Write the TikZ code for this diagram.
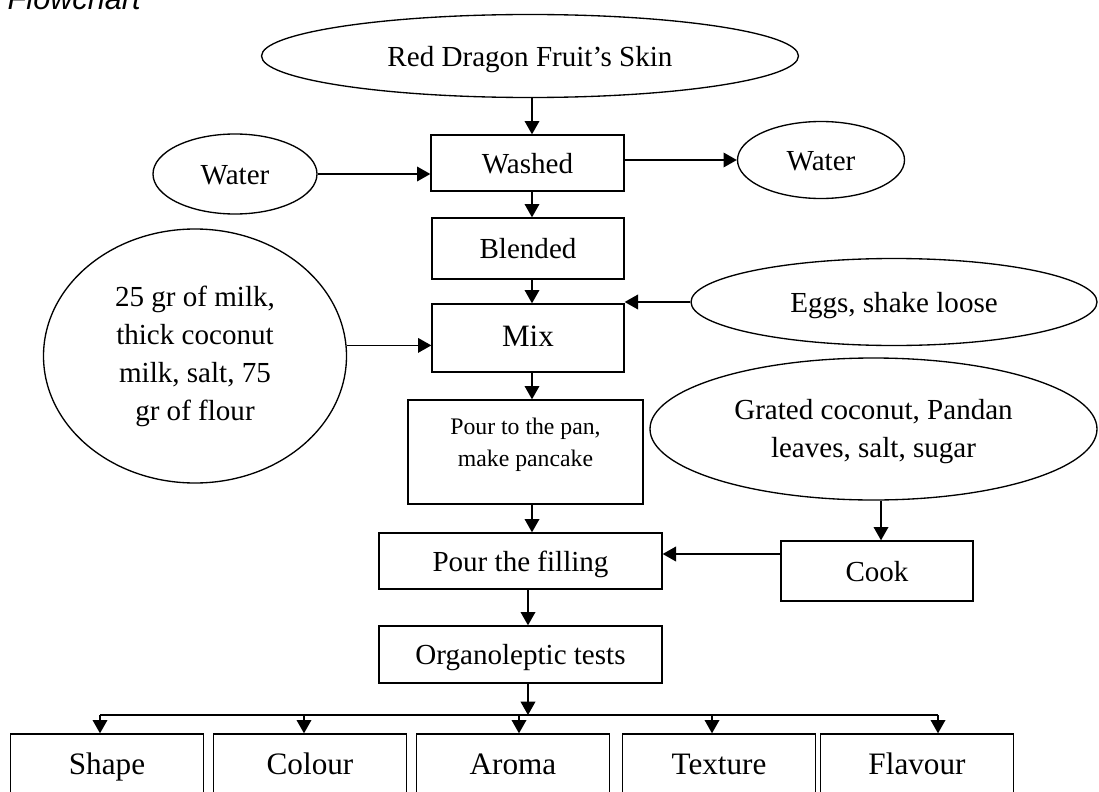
\documentclass[tikz,border=0pt]{standalone}
\usepackage{fontspec}
\setmainfont{Liberation Serif}
\newfontfamily\headfont{Liberation Sans}
\usepackage{xcolor}
\usetikzlibrary{shapes,arrows.meta,positioning,calc}

\tikzset{
  procbox/.style={draw, line width=1pt, rectangle, inner sep=0pt, align=center,
    font=\fontsize{21.8}{28.5}\selectfont, text height=20pt, text depth=4.4pt},
  inbubble/.style={draw, line width=1pt, ellipse, inner sep=0pt, align=center,
    font=\fontsize{21.8}{28.5}\selectfont},
  oneline/.style={text height=20pt, text depth=4.4pt},
  testbox/.style={procbox, minimum width=144.75pt, minimum height=52.5pt,
    font=\fontsize{23.4}{28}\selectfont, text height=14pt, text depth=5.9pt},
  flow/.style={line width=1.1pt, -{Triangle[length=10pt,width=11pt]}}
}

\begin{document}
\begin{tikzpicture}[x=0.75pt,y=-0.75pt]
  \useasboundingbox (0,0) rectangle (1099,792);
  \node[anchor=base west, font=\headfont\itshape\fontsize{23}{28}\selectfont] (title) at (3,10) {Flowchart};

  % inputs
  \node[inbubble, oneline, minimum width=402.75pt, minimum height=62.25pt] (skin) at (530,56) {Red Dragon Fruit's Skin};
  \node[inbubble, oneline, minimum width=123pt, minimum height=60pt] (waterin) at (235,174) {Water};
  \node[inbubble, oneline, minimum width=125.25pt, minimum height=57.75pt] (waterout) at (821,160) {Water};
  \node[inbubble, minimum width=227.25pt, minimum height=190.5pt] (milk) at (195,356)
    {25 gr of milk,\\thick coconut\\milk, salt, 75\\gr of flour};
  \node[inbubble, oneline, minimum width=304.5pt, minimum height=65.25pt] (eggs) at (894,302) {Eggs, shake loose};
  \node[inbubble, minimum width=335.25pt, minimum height=106.5pt] (grated) at (873.5,429) {};
  \node[align=center, font=\fontsize{21.8}{28.5}\selectfont] (gratedtext) at (873.5,432)
    {Grated coconut, Pandan\\leaves, salt, sugar};

  % steps
  \node[procbox, minimum width=144.75pt, minimum height=42pt] (washed) at (527.5,163) {Washed};
  \node[procbox, minimum width=144pt, minimum height=45.75pt] (blended) at (528,248.5) {Blended};
  \node[procbox, minimum width=144pt, minimum height=51pt, font=\fontsize{23.3}{28}\selectfont,
    text height=18.6pt, text depth=6.5pt] (mix) at (528,338) {Mix};
  \node[procbox, minimum width=176.25pt, minimum height=78pt] (pan) at (525.5,452) {};
  \node[align=center, font=\fontsize{17.8}{24}\selectfont] (pantext) at (525.5,445) {Pour to the pan,\\make pancake};
  \node[procbox, minimum width=212.25pt, minimum height=42pt] (filling) at (520.5,561) {Pour the filling};
  \node[procbox, minimum width=144pt, minimum height=45pt] (cook) at (877,571) {Cook};
  \node[procbox, minimum width=212.25pt, minimum height=42.75pt] (organo) at (520.5,654.5) {Organoleptic tests};

  \coordinate (col) at (532,0);
  \coordinate (colb) at (528,0);
  \draw[flow] (skin.south -| col) -- (washed.north -| col);
  \draw[flow] (waterin.east) -- (waterin.east -| washed.west);
  \draw[flow] (waterout.west -| washed.east) -- (waterout.west);
  \draw[flow] (washed.south -| col) -- (blended.north -| col);
  \draw[flow] (blended.south -| col) -- (mix.north -| col);
  \draw[flow] (milk.4) -- (milk.4 -| mix.west);
  \draw[flow] (eggs.west) -- (eggs.west -| mix.east);
  \draw[flow] (mix.south -| col) -- (pan.north -| col);
  \draw[flow] (pan.south -| col) -- (filling.north -| col);
  \draw[flow] ([xshift=3pt]grated.south -| cook.north) -- ([xshift=3pt]cook.north);
  \draw[flow] ([yshift=5.25pt]filling.east -| cook.west) -- ([yshift=5.25pt]filling.east);
  \draw[flow] (filling.south -| colb) -- (organo.north -| colb);

  % tests
  \foreach \lbl/\cx/\ax [count=\i] in {Shape/107/100, Colour/310/304, Aroma/513/519, Texture/719/712, Flavour/917/938} {
    \node[testbox] (test\i) at (\cx,769) {\lbl};
    \coordinate (bus\i) at (\ax,715);
    \draw[flow] (bus\i) -- (bus\i |- test\i.north);
  }
  \draw[line width=1.1pt] (bus1) -- (bus5);
  \draw[flow] (organo.south -| colb) -- (bus1 -| colb);
\end{tikzpicture}
\end{document}
